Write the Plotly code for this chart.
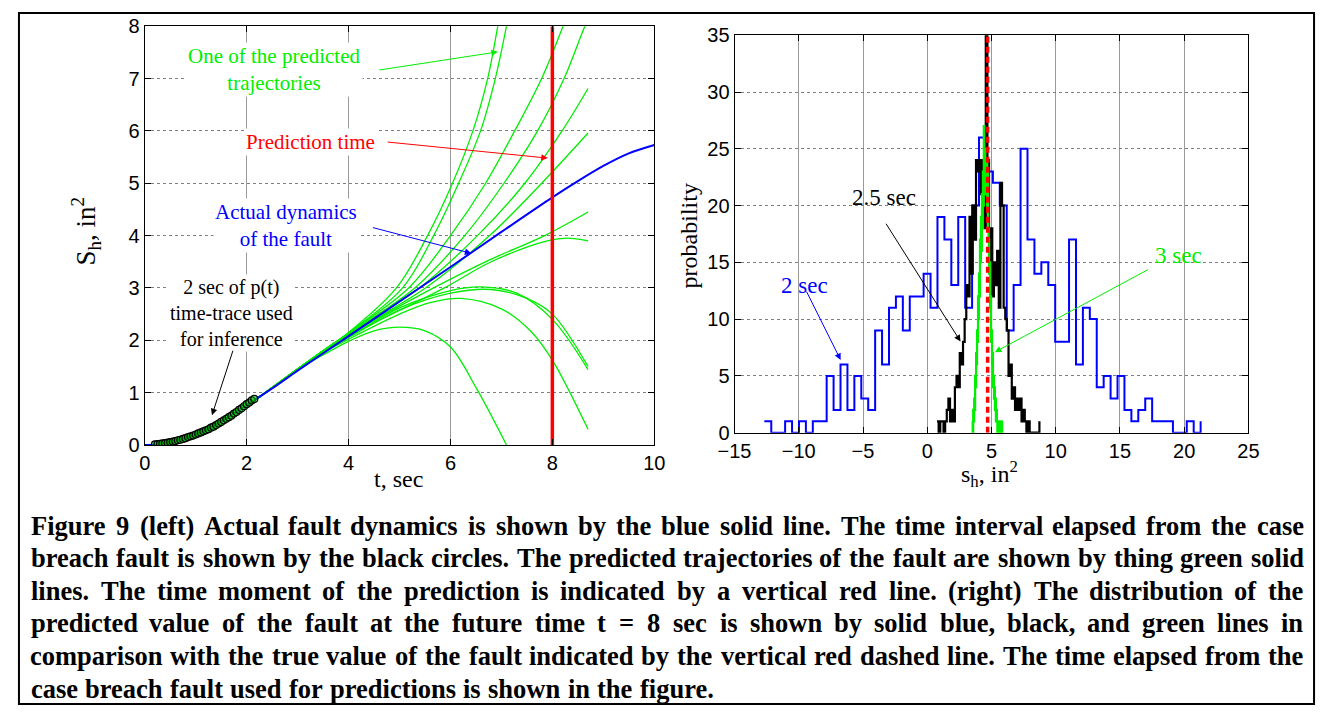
import numpy as np
import plotly.graph_objects as go

W, H = 1327, 717

# ---------------- Left panel data ----------------
ACTUAL_T = [0, 0.2, 0.5, 1.0, 1.5, 2.0, 2.5, 3.0, 4.0, 5.0, 6.0, 7.0, 8.0, 8.5, 9.0, 9.5, 10.0]
ACTUAL_S = [0, 0.01, 0.06, 0.2, 0.45, 0.76, 1.08, 1.42, 2.08, 2.74, 3.4, 4.07, 4.73, 5.04, 5.33, 5.57, 5.73]

OBS_T = [0.20, 0.25, 0.30, 0.35, 0.40, 0.45, 0.50, 0.55, 0.60, 0.65, 0.70, 0.75, 0.80, 0.85,
         0.90, 0.95, 1.00, 1.05, 1.10, 1.15, 1.20, 1.25, 1.30, 1.35, 1.40, 1.45, 1.50, 1.55,
         1.60, 1.65, 1.70, 1.75, 1.80, 1.85, 1.90, 1.95, 2.00, 2.05, 2.10, 2.15]
OBS_S = [0.01, 0.015, 0.02, 0.03, 0.035, 0.045, 0.055, 0.065, 0.075, 0.09, 0.10, 0.115, 0.13, 0.15,
         0.165, 0.18, 0.20, 0.22, 0.24, 0.26, 0.28, 0.30, 0.33, 0.35, 0.38, 0.41, 0.44, 0.47,
         0.50, 0.53, 0.56, 0.60, 0.63, 0.67, 0.70, 0.74, 0.78, 0.81, 0.85, 0.88]

PRED_U1_T = [2.2, 3.0, 3.5, 4.0, 4.94, 5.55, 6.04, 6.44, 6.73, 6.93, 7.05]
PRED_U1_S = [0.88, 1.45, 1.8, 2.15, 3.0, 4.0, 5.0, 6.0, 7.0, 8.0, 8.6]
PRED_U2_T = [2.2, 3.0, 3.5, 4.0, 5.06, 5.67, 6.16, 6.59, 6.88, 7.10, 7.2]
PRED_U2_S = [0.88, 1.45, 1.8, 2.14, 3.0, 4.0, 5.0, 6.0, 7.0, 8.0, 8.5]
PRED_U3_T = [2.2, 3.0, 3.5, 4.0, 5.18, 6.0, 6.69, 7.26, 7.79, 8.21, 8.35]
PRED_U3_S = [0.88, 1.45, 1.8, 2.14, 3.0, 4.0, 5.0, 6.0, 7.0, 8.0, 8.35]
PRED_U4_T = [2.2, 3.0, 3.5, 4.0, 5.3, 6.28, 7.05, 7.71, 8.23, 8.64, 8.7]
PRED_U4_S = [0.88, 1.45, 1.8, 2.13, 3.0, 4.0, 5.0, 6.0, 7.0, 8.0, 8.1]
PRED_U5_T = [2.2, 3.0, 3.5, 4.0, 5.39, 6.53, 7.46, 8.19, 8.7]
PRED_U5_S = [0.88, 1.45, 1.8, 2.13, 3.0, 4.0, 5.0, 6.0, 6.81]
PRED_U6_T = [2.2, 3.0, 3.5, 4.0, 5.51, 6.77, 7.79, 8.7]
PRED_U6_S = [0.88, 1.45, 1.8, 2.12, 3.0, 4.0, 5.0, 5.96]
PRED_L1_T = [2.2, 3.0, 3.5, 4.0, 5.67, 6.8, 7.85, 8.7]
PRED_L1_S = [0.88, 1.45, 1.79, 2.1, 3.0, 3.55, 4.0, 4.45]
PRED_L2_T = [2.2, 3.0, 3.5, 4.0, 5.88, 6.8, 7.9, 8.3, 8.7]
PRED_L2_S = [0.88, 1.45, 1.79, 2.08, 3.0, 3.5, 3.9, 3.95, 3.9]
PRED_A_T = [2.2, 3.0, 3.5, 4.0, 5.0, 6.0, 6.6, 7.3, 8.0, 8.7]
PRED_A_S = [0.88, 1.45, 1.78, 2.06, 2.62, 2.95, 3.02, 2.9, 2.4, 1.44]
PRED_B_T = [2.2, 3.0, 3.5, 4.0, 5.0, 6.0, 6.8, 7.5, 8.0, 8.7]
PRED_B_S = [0.88, 1.45, 1.78, 2.05, 2.58, 2.9, 2.97, 2.8, 2.5, 1.5]
PRED_C_T = [2.2, 3.0, 3.5, 4.0, 5.0, 5.6, 6.2, 7.0, 7.6, 8.0, 8.7]
PRED_C_S = [0.88, 1.44, 1.76, 2.02, 2.5, 2.72, 2.8, 2.6, 2.15, 1.62, 0.3]
PRED_D_T = [2.2, 3.0, 3.5, 4.0, 4.5, 5.0, 5.5, 6.0, 6.5, 7.1]
PRED_D_S = [0.88, 1.43, 1.72, 1.98, 2.18, 2.25, 2.18, 1.87, 1.1, 0.0]

PRED_T_LIST = [PRED_U1_T, PRED_U2_T, PRED_U3_T, PRED_U4_T, PRED_U5_T, PRED_U6_T,
               PRED_L1_T, PRED_L2_T, PRED_A_T, PRED_B_T, PRED_C_T, PRED_D_T]
PRED_S_LIST = [PRED_U1_S, PRED_U2_S, PRED_U3_S, PRED_U4_S, PRED_U5_S, PRED_U6_S,
               PRED_L1_S, PRED_L2_S, PRED_A_S, PRED_B_S, PRED_C_S, PRED_D_S]

PREDICTION_TIME = 8.0

LEFT_XTICKS = [0, 2, 4, 6, 8, 10]
LEFT_YTICKS = [0, 1, 2, 3, 4, 5, 6, 7, 8]

# ---------------- Right panel data (histogram counts) ----------------
HIST2_START, HIST2_WIDTH = -12.68, 0.539
HIST2_COUNTS = [1, 0, 0, 1, 0, 1, 0, 1, 1, 5, 2, 6, 2, 5, 3, 2, 9, 6, 11, 12, 9, 12, 12, 14, 11,
                19, 17, 13, 19, 11, 20, 26, 23, 22, 20, 9, 13, 25, 17, 14, 15, 13, 8, 8, 17, 6,
                11, 10, 4, 5, 3, 5, 2, 1, 2, 3, 1, 1, 1, 0, 0, 1, 0, 1]

HIST25_START, HIST25_WIDTH = 0.76, 0.1265
HIST25_COUNTS = [1, 0, 1, 1, 0, 1, 2, 3, 1, 2, 1, 4, 5, 4, 7, 6, 8, 10, 13, 12, 19, 14, 20, 17,
                 24, 23, 24, 21, 24, 18, 38, 24, 15, 18, 12, 15, 13, 16, 11, 22, 20, 11, 10, 9,
                 5, 6, 3, 4, 2, 3, 2, 3, 1, 2, 1, 0, 1, 0, 0, 0, 0, 0, 0, 1]

HIST3_START, HIST3_WIDTH = 3.50, 0.0376
HIST3_COUNTS = [1, 0, 2, 1, 3, 2, 5, 4, 7, 6, 9, 8, 12, 10, 14, 12, 17, 15, 19, 16, 21, 18, 23,
                20, 27, 22, 25, 21, 24, 22, 24, 20, 23, 18, 17, 14, 15, 11, 12, 8, 9, 6, 7, 4, 5,
                3, 4, 2, 3, 1, 2, 1, 0, 1, 0, 1, 0, 0, 1, 0, 1, 0, 1, 1]

TRUE_VALUE = 4.7

RIGHT_XTICKS = [-15, -10, -5, 0, 5, 10, 15, 20, 25]
RIGHT_YTICKS = [0, 5, 10, 15, 20, 25, 30, 35]

CAPTION_LINES = [
    "Figure 9 (left) Actual fault dynamics is shown by the blue solid line. The time interval elapsed from the case",
    "breach fault is shown by the black circles. The predicted trajectories of the fault are shown by thing green solid",
    "lines. The time moment of the prediction is indicated by a vertical red line. (right) The distribution of the",
    "predicted value of the fault at the future time t = 8 sec is shown by solid blue, black, and green lines in",
    "comparison with the true value of the fault indicated by the vertical red dashed line. The time elapsed from the",
    "case breach fault used for predictions is shown in the figure.",
]

# ---------------- styles ----------------
GREEN = "#00ee00"
BLUE = "#0000ff"
RED = "#ff0000"
SERIF = "Times New Roman, Liberation Serif, serif"
SANS = "Arial, Liberation Sans, sans-serif"

fig = go.Figure()

# left panel traces
for tt, ss in zip(PRED_T_LIST, PRED_S_LIST):
    fig.add_trace(go.Scatter(x=tt, y=ss, mode="lines", line=dict(color=GREEN, width=1.3, shape="spline", smoothing=1.0),
                             xaxis="x", yaxis="y", showlegend=False, hoverinfo="skip"))
fig.add_trace(go.Scatter(x=ACTUAL_T, y=ACTUAL_S, mode="lines", line=dict(color=BLUE, width=2, shape="spline", smoothing=0.8),
                         xaxis="x", yaxis="y", showlegend=False))
fig.add_trace(go.Scatter(x=OBS_T, y=OBS_S, mode="markers",
                         marker=dict(symbol="circle", size=7, color="rgba(0,200,0,0.55)", line=dict(color="black", width=1.2)),
                         xaxis="x", yaxis="y", showlegend=False))
fig.add_trace(go.Scatter(x=[PREDICTION_TIME, PREDICTION_TIME], y=[LEFT_YTICKS[0], LEFT_YTICKS[-1]], mode="lines",
                         line=dict(color=RED, width=3.5), xaxis="x", yaxis="y", showlegend=False))


def stairs(start, width, counts):
    edges = start + width * np.arange(len(counts))
    return edges, counts


for (st, wd, cnt, col, lw) in [(HIST2_START, HIST2_WIDTH, HIST2_COUNTS, BLUE, 2),
                               (HIST25_START, HIST25_WIDTH, HIST25_COUNTS, "black", 2.2),
                               (HIST3_START, HIST3_WIDTH, HIST3_COUNTS, GREEN, 2.2)]:
    ex, cy = stairs(st, wd, cnt)
    fig.add_trace(go.Scatter(x=ex, y=cy, mode="lines", line=dict(color=col, width=lw, shape="hv"),
                             xaxis="x2", yaxis="y2", showlegend=False))

fig.add_trace(go.Scatter(x=[TRUE_VALUE, TRUE_VALUE], y=[RIGHT_YTICKS[0], RIGHT_YTICKS[-1]], mode="lines",
                         line=dict(color=RED, width=3.5, dash="6px,4px"), xaxis="x2", yaxis="y2", showlegend=False))

axis_common = dict(showline=True, linecolor="black", linewidth=1, mirror="ticks", ticks="inside", ticklen=6,
                   tickcolor="black", zeroline=False, showgrid=True, tickfont=dict(family=SANS, size=20, color="black"))

fig.update_layout(
    width=W, height=H, margin=dict(l=0, r=0, t=0, b=0),
    paper_bgcolor="white", plot_bgcolor="white", showlegend=False,
    xaxis=dict(domain=[130.5 / W, 651 / W], range=[0, 10], tickvals=LEFT_XTICKS, anchor="y",
               gridcolor="#9a9a9a", gridwidth=1, **axis_common),
    yaxis=dict(domain=[(H - 447.7) / H, (H - 15.7) / H], range=[0, 8], tickvals=LEFT_YTICKS, anchor="x",
               gridcolor="#808080", griddash="dot", gridwidth=1, **axis_common),
    xaxis2=dict(domain=[733 / W, 1258 / W], range=[-15, 25], tickvals=RIGHT_XTICKS, anchor="y2",
                gridcolor="#9a9a9a", gridwidth=1, **axis_common),
    yaxis2=dict(domain=[(H - 435) / H, (H - 25) / H], range=[0, 35], tickvals=RIGHT_YTICKS, anchor="x2",
                gridcolor="#808080", griddash="dot", gridwidth=1, **axis_common),
)

ann = []


def txt(x, y, text, color, size, xref="x", yref="y", angle=0, bg="white"):
    ann.append(dict(x=x, y=y, xref=xref, yref=yref, text=text, showarrow=False, textangle=angle,
                    font=dict(family=SERIF, size=size, color=color), bgcolor=bg, borderpad=1,
                    xanchor="center", yanchor="middle", align="center"))


def arrow(x, y, ax, ay, color, xref="x", yref="y"):
    ann.append(dict(x=x, y=y, ax=ax, ay=ay, xref=xref, yref=yref, axref=xref, ayref=yref, text="",
                    showarrow=True, arrowhead=2, arrowsize=1.3, arrowwidth=1, arrowcolor=color))


# left annotations
txt(2.55, 7.17, "One of the predicted<br>trajectories", GREEN, 21)
arrow(6.93, 7.51, 4.58, 7.16, GREEN)
txt(3.26, 5.79, "Prediction time", RED, 21)
arrow(7.91, 5.48, 4.74, 5.79, RED)
txt(2.78, 4.19, "Actual dynamics<br>of the fault", BLUE, 21)
arrow(6.41, 3.66, 4.45, 4.16, BLUE)
txt(1.70, 2.52, "2 sec of p(t)<br>time-trace used<br>for inference", "black", 20)
arrow(1.32, 0.57, 1.74, 1.83, "black")

# right annotations
txt(-3.35, 20.7, "2.5 sec", "black", 23, "x2", "y2", bg="rgba(0,0,0,0)")
arrow(2.59, 8.03, -3.28, 18.53, "black", "x2", "y2")
txt(-9.52, 12.98, "2 sec", BLUE, 23, "x2", "y2", bg="rgba(0,0,0,0)")
arrow(-6.74, 6.40, -9.45, 12.55, BLUE, "x2", "y2")
txt(19.58, 15.63, "3 sec", GREEN, 23, "x2", "y2", bg="rgba(0,0,0,0)")
arrow(5.26, 7.09, 17.3, 14.43, GREEN, "x2", "y2")

# axis titles
txt(390 / W, 1 - 483 / H, "t, sec", "black", 24, "paper", "paper", bg="rgba(0,0,0,0)")
txt(70 / W, 1 - 228 / H, "S<sub>h</sub>, in<sup>2</sup>", "black", 27, "paper", "paper", angle=-90, bg="rgba(0,0,0,0)")
txt(993 / W, 1 - 478 / H, "s<sub>h</sub>, in<sup>2</sup>", "black", 24, "paper", "paper", bg="rgba(0,0,0,0)")
txt(686 / W, 1 - 232 / H, "probability", "black", 24, "paper", "paper", angle=-90, bg="rgba(0,0,0,0)")

# caption (justified with Times-Bold metrics, each word placed by its centre)
TB = {' ': 250, 'a': 500, 'b': 556, 'c': 444, 'd': 556, 'e': 444, 'f': 333, 'g': 500, 'h': 556, 'i': 278,
      'j': 333, 'k': 556, 'l': 278, 'm': 833, 'n': 556, 'o': 500, 'p': 556, 'q': 556, 'r': 444, 's': 389,
      't': 333, 'u': 556, 'v': 500, 'w': 722, 'x': 500, 'y': 500, 'z': 444, '.': 250, ',': 250, '(': 333,
      ')': 333, '=': 570, 'A': 722, 'F': 611, 'T': 667}
CAP_FS = 26.5
CAP_X0, CAP_X1 = 15, 1314
CAP_Y0, CAP_DY = 531, 33.6


def tw(s):
    return sum(TB.get(c, 500) for c in s) * CAP_FS / 1000.0


def cap_word(xc, ypx, text):
    ann.append(dict(x=xc / W, y=1 - ypx / H, xref="paper", yref="paper", text=text, showarrow=False,
                    xanchor="center", yanchor="middle", borderpad=0,
                    font=dict(family=SERIF, size=CAP_FS, color="black", weight="bold")))


for i, line in enumerate(CAPTION_LINES):
    ypx = CAP_Y0 + i * CAP_DY
    words = line.split(" ")
    widths = [tw(w) for w in words]
    if i < len(CAPTION_LINES) - 1:
        gap = (CAP_X1 - CAP_X0 - sum(widths)) / (len(words) - 1)
    else:
        gap = 8.5
    xcur = CAP_X0
    for wd, wl in zip(words, widths):
        cap_word(xcur + wl / 2, ypx, wd)
        xcur += wl + gap

fig.update_layout(annotations=ann)

# outer frame
fig.add_shape(type="rect", xref="paper", yref="paper", x0=2 / W, x1=1 - 2 / W, y0=2 / H, y1=1 - 2 / H,
              line=dict(color="black", width=2), layer="above")

fig.write_html("out.html",
               post_script="document.body.style.margin='0';document.body.style.padding='0';"
                           "document.documentElement.style.overflow='hidden';")
